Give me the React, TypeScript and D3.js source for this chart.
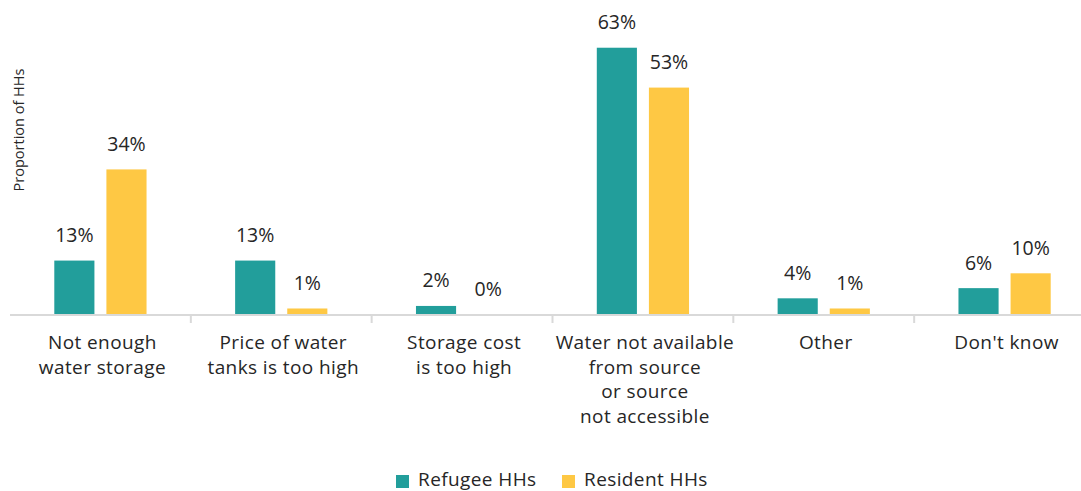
import React from "react";
import * as d3 from "d3";

const categories = [
  "Not enough water storage",
  "Price of water tanks is too high",
  "Storage cost is too high",
  "Water not available from source or source not accessible",
  "Other",
  "Don't know",
];
const categoryLines = [
  ["Not enough", "water storage"],
  ["Price of water", "tanks is too high"],
  ["Storage cost", "is too high"],
  ["Water not available", "from source", "or source", "not accessible"],
  ["Other"],
  ["Don't know"],
];
const seriesNames = ["Refugee HHs", "Resident HHs"];
const refugeeValues = [12.6, 12.6, 1.9, 62.8, 3.7, 6.1];
const residentValues = [34.1, 1.3, 0, 53.4, 1.3, 9.6];
const seriesColors = ["#229E9B", "#FEC844"];

const W = 1081;
const H = 491;
const FONT = "'Open Sans', sans-serif";
const TEXT = "#262626";

export default function App() {
  const x0 = d3.scaleBand<string>().domain(categories).range([10, 1095]);
  const x1 = d3
    .scaleBand<string>()
    .domain(seriesNames)
    .range([0, x0.bandwidth()])
    .paddingInner(0.23)
    .paddingOuter(0.85);
  const y = d3.scaleLinear().domain([0, 70]).range([314, 314 - 70 * 4.24]);
  const series = [refugeeValues, residentValues];
  const boundaries = categories.slice(1).map((c) => x0(c) as number);

  return (
    <svg
      width={W}
      height={H}
      style={{ position: "absolute", left: 0, top: 0, background: "#fff" }}
      fontFamily={FONT}
    >
      <rect width={W} height={H} fill="#fff" />
      {categories.map((c, ci) =>
        series.map((vals, si) => {
          const v = vals[ci];
          const bx = (x0(c) as number) + (x1(seriesNames[si]) as number);
          const bw = x1.bandwidth();
          return (
            <g key={c + si}>
              {v > 0 && (
                <rect x={bx} y={y(v)} width={bw} height={y(0) - y(v)} fill={seriesColors[si]} />
              )}
              <text
                x={bx + bw / 2}
                y={y(v) - 18.5}
                textAnchor="middle"
                fontSize={19.5}
                fill={TEXT}
              >
                {Math.round(v)}%
              </text>
            </g>
          );
        })
      )}
      <line x1={10} x2={W} y1={y(0) + 1} y2={y(0) + 1} stroke="#d9d9d9" strokeWidth={2} />
      {boundaries.map((bx, i) => (
        <line key={i} x1={bx} x2={bx} y1={y(0)} y2={y(0) + 9} stroke="#d9d9d9" strokeWidth={2} />
      ))}
      {categories.map((c, ci) => (
        <text
          key={c}
          x={(x0(c) as number) + x0.bandwidth() / 2 + 2}
          y={349}
          textAnchor="middle"
          fontSize={19}
          letterSpacing={0.4}
          fill={TEXT}
        >
          {categoryLines[ci].map((ln, li) => (
            <tspan key={li} x={(x0(c) as number) + x0.bandwidth() / 2 + 2} dy={li === 0 ? 0 : 24.7}>
              {ln}
            </tspan>
          ))}
        </text>
      ))}
      <text
        transform="translate(24,130) rotate(-90)"
        textAnchor="middle"
        fontSize={14.5}
        fill={TEXT}
      >
        Proportion of HHs
      </text>
      {seriesNames.map((s, si) => {
        const lx = [396, 562][si];
        return (
          <g key={s}>
            <rect x={lx} y={475} width={13} height={13} fill={seriesColors[si]} />
            <text x={lx + 22} y={485.5} fontSize={19} letterSpacing={0.4} fill={TEXT}>
              {s}
            </text>
          </g>
        );
      })}
    </svg>
  );
}
